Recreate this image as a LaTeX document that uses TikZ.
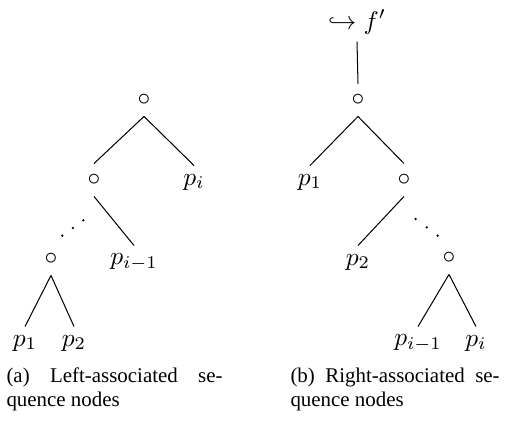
\documentclass[tikz,border=0pt]{standalone}
\usepackage{fontspec}
\newfontfamily\capfont{Liberation Serif}
\begin{document}
\begin{tikzpicture}[x=0.392pt, y=-0.392pt,
  tn/.style={inner sep=0pt, minimum height=12.5pt},
  topn/.style={inner sep=0pt, minimum height=15pt},
  captext/.style={inner sep=0pt, anchor=base west, font=\capfont\fontsize{8.2}{9.2}\selectfont},
  conn/.style={line width=0.4pt}]
\useasboundingbox (0,0) rectangle (506,421);
% left tree
\node[tn] (La) at (144,100) {$\circ$};
\node[tn] (Lb) at (94,180) {$\circ$};
\node[tn] (Lpi) at (194,182) {$p_i$};
\node[tn] (Lc) at (51,259) {$\circ$};
\node[tn] (Lpim) at (134,262) {$p_{i-1}$};
\node[tn] (Lp1) at (25,343) {$p_1$};
\node[tn] (Lp2) at (74,343) {$p_2$};
\draw[conn] (La.south) -- (Lb.north);
\draw[conn] (La.south) -- (Lpi.north);
\draw[conn] (Lb.south) -- (Lpim.north);
\draw[conn] (Lc.south) -- (Lp1.north);
\draw[conn] (Lc.south) -- (Lp2.north);
\foreach \p in {(62.3,235.7),(72.8,228),(83.3,220.3)} \fill \p circle[radius=0.5pt];
% right tree
\node[topn] (Rf) at (357,22) {$\hookrightarrow f'$};
\node[tn] (Ra) at (358,100) {$\circ$};
\node[tn] (Rp1) at (310,182) {$p_1$};
\node[tn] (Rb) at (404,180) {$\circ$};
\node[tn] (Rp2) at (358,262) {$p_2$};
\node[tn] (Rc) at (449,258) {$\circ$};
\node[tn] (Rpim) at (418,343) {$p_{i-1}$};
\node[tn] (Rpi) at (476,343) {$p_i$};
\draw[conn] (Rf.south) -- (Ra.north);
\draw[conn] (Ra.south) -- (Rp1.north);
\draw[conn] (Ra.south) -- (Rb.north);
\draw[conn] (Rb.south) -- (Rp2.north);
\draw[conn] (Rc.south) -- (Rpim.north);
\draw[conn] (Rc.south) -- (Rpi.north);
\foreach \p in {(415.7,219),(426.7,227.4),(437.7,235.7)} \fill \p circle[radius=0.5pt];
% captions
\node[captext] (capa) at (6,383) {\parbox[t]{84.7pt}{\makebox[84.7pt][s]{(a) Left-associated se-}\\quence nodes}};
\node[captext] (capb) at (290,383) {\parbox[t]{82pt}{\makebox[82pt][s]{(b) Right-associated se-}\\quence nodes}};
\end{tikzpicture}
\end{document}
